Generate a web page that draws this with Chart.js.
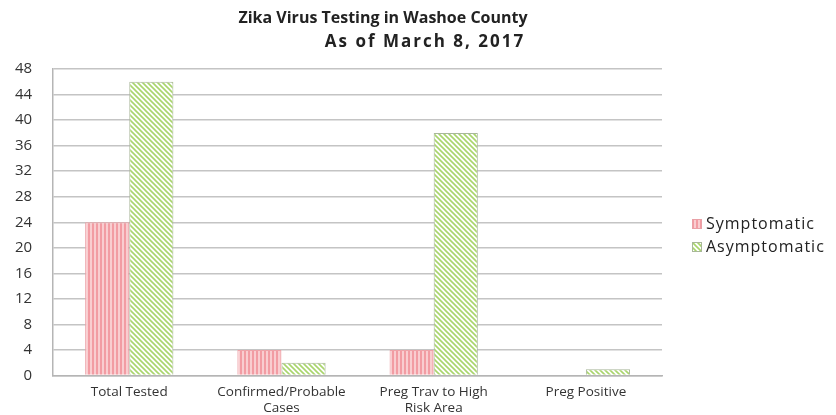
<!DOCTYPE html>
<html>
<head>
<meta charset="utf-8">
<script src="https://cdn.jsdelivr.net/npm/chart.js@4"></script>
<style>
  html, body { margin: 0; padding: 0; background: #fff; }
  #wrap { width: 836px; height: 415px; position: relative; }
</style>
</head>
<body>
<div id="wrap"><canvas id="chart" width="836" height="415"></canvas></div>
<script>
const categories = [
  "Total Tested",
  ["Confirmed/Probable", "Cases"],
  ["Preg Trav to High", "Risk Area"],
  "Preg Positive"
];
const symptomatic = [24, 4, 4, 0];
const asymptomatic = [46, 2, 38, 1];
const seriesNames = ["Symptomatic", "Asymptomatic"];
const titleLines = ["Zika Virus Testing in Washoe County", "As of March 8, 2017"];

function stripePattern() {
  const c = document.createElement("canvas");
  c.width = 4; c.height = 4;
  const g = c.getContext("2d");
  g.fillStyle = "#f9cdd0";
  g.fillRect(0, 0, 4, 4);
  g.fillStyle = "#f29ca3";
  g.fillRect(0, 0, 2, 4);
  return g.createPattern(c, "repeat");
}

function diagPattern() {
  const c = document.createElement("canvas");
  c.width = 5; c.height = 5;
  const g = c.getContext("2d");
  g.fillStyle = "#ffffff";
  g.fillRect(0, 0, 5, 5);
  g.strokeStyle = "#a9d56c";
  g.lineWidth = 1.6;
  g.beginPath();
  g.moveTo(-1, -1); g.lineTo(6, 6);
  g.moveTo(-1, 4); g.lineTo(1, 6);
  g.moveTo(4, -1); g.lineTo(6, 1);
  g.stroke();
  return g.createPattern(c, "repeat");
}

const pinkFill = stripePattern();
const greenFill = diagPattern();

// title and legend drawn by hand
const decorations = {
  id: "decorations",
  afterDraw(chart) {
    const ctx = chart.ctx;
    ctx.save();
    ctx.fillStyle = "#222";
    ctx.textAlign = "center";
    ctx.textBaseline = "middle";
    ctx.font = "bold 16px 'Open Sans'";
    ctx.fillText(titleLines[0], 383, 18);
    ctx.font = "bold 17px 'Open Sans'";
    ctx.letterSpacing = "2px";
    ctx.fillText(titleLines[1], 425, 42);

    const fills = [pinkFill, greenFill];
    const borders = ["#e9a0a6", "#a8b898"];
    ctx.textAlign = "left";
    ctx.font = "16px 'Open Sans'";
    ctx.letterSpacing = "1px";
    seriesNames.forEach((name, i) => {
      const y = 224 + i * 23;
      const x = 692;
      ctx.fillStyle = fills[i];
      ctx.fillRect(x, y - 5, 10, 10);
      ctx.strokeStyle = borders[i];
      ctx.lineWidth = 1;
      ctx.strokeRect(x + 0.5, y - 4.5, 9, 9);
      ctx.fillStyle = "#222";
      ctx.fillText(name, x + 14, y);
    });
    ctx.restore();
  }
};

new Chart(document.getElementById("chart"), {
  type: "bar",
  data: {
    labels: categories,
    datasets: [
      { label: seriesNames[0], data: symptomatic, backgroundColor: pinkFill,
        borderColor: "#eda3a9", borderWidth: 1 },
      { label: seriesNames[1], data: asymptomatic, backgroundColor: greenFill,
        borderColor: "#a9b79b", borderWidth: 1 }
    ]
  },
  options: {
    responsive: false,
    animation: false,
    layout: { padding: { left: -6, right: 174, top: 69, bottom: -1 } },
    plugins: { legend: { display: false }, title: { display: false }, tooltip: { enabled: false } },
    datasets: { bar: { barPercentage: 1.0, categoryPercentage: 0.58 } },
    scales: {
      x: {
        grid: { display: false },
        border: { display: true, color: "#b5b5b5", width: 1.5 },
        ticks: { color: "#333", font: { family: "'Open Sans'", size: 13.5, lineHeight: 1.2 }, padding: 0, maxRotation: 0 }
      },
      y: {
        min: 0, max: 48,
        ticks: { stepSize: 4, color: "#333", font: { family: "'Open Sans'", size: 15 }, padding: 21 },
        grid: { color: "#c4c4c4", lineWidth: 1.5, drawTicks: false },
        border: { display: true, color: "#b5b5b5", width: 1.5 }
      }
    }
  },
  plugins: [decorations]
});
</script>
</body>
</html>
